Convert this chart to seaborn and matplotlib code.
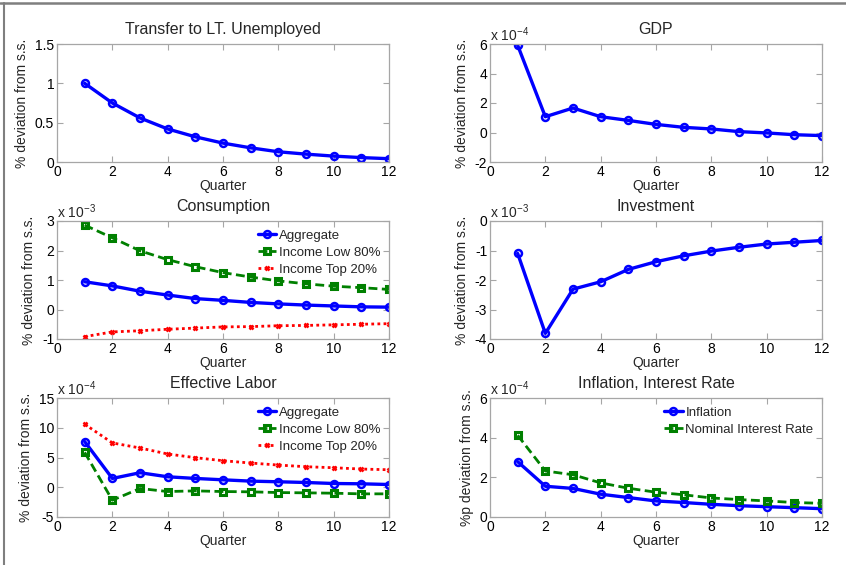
import numpy as np
import pandas as pd
import matplotlib
matplotlib.use("Agg")
import matplotlib.pyplot as plt
from matplotlib.lines import Line2D
import seaborn as sns

# ---- impulse responses, quarters 1..12 ----
quarters = list(range(1, 13))

transfer = [1.00, 0.75, 0.56, 0.42, 0.32, 0.24, 0.18, 0.13, 0.10, 0.075, 0.056, 0.042]

# GDP (x 10^-4)
gdp = [5.91, 1.07, 1.66, 1.07, 0.82, 0.55, 0.35, 0.24, 0.06, -0.03, -0.15, -0.21]

# Consumption (x 10^-3)
cons_agg = [0.94, 0.80, 0.62, 0.49, 0.37, 0.31, 0.24, 0.19, 0.15, 0.12, 0.09, 0.08]
cons_low = [2.86, 2.43, 1.99, 1.69, 1.45, 1.25, 1.10, 0.97, 0.87, 0.79, 0.74, 0.68]
cons_top = [-0.92, -0.76, -0.72, -0.67, -0.63, -0.59, -0.58, -0.55, -0.54, -0.52, -0.50, -0.48]

# Investment (x 10^-3)
invest = [-1.10, -3.81, -2.31, -2.06, -1.64, -1.38, -1.18, -1.02, -0.89, -0.78, -0.72, -0.66]

# Effective labor (x 10^-4)
lab_agg = [7.68, 1.48, 2.44, 1.76, 1.48, 1.25, 1.03, 0.92, 0.80, 0.63, 0.58, 0.46]
lab_low = [5.87, -2.18, -0.21, -0.72, -0.61, -0.72, -0.77, -0.89, -0.94, -1.00, -1.11, -1.11]
lab_top = [10.6, 7.45, 6.60, 5.59, 4.97, 4.46, 4.07, 3.73, 3.45, 3.28, 3.06, 2.94]

# Inflation and nominal rate (x 10^-4)
inflation = [2.79, 1.55, 1.44, 1.15, 0.98, 0.81, 0.73, 0.64, 0.57, 0.52, 0.47, 0.42]
nominal = [4.12, 2.32, 2.13, 1.72, 1.45, 1.25, 1.12, 0.96, 0.88, 0.81, 0.73, 0.69]

group_labels = ["Aggregate", "Income Low 80%", "Income Top 20%"]
rate_labels = ["Inflation", "Nominal Interest Rate"]
titles = ["Transfer to LT. Unemployed", "GDP", "Consumption",
          "Investment", "Effective Labor", "Inflation, Interest Rate"]

sns.set_theme(style="white")
plt.rcParams["font.family"] = ["Liberation Sans", "DejaVu Sans"]
plt.rcParams["mathtext.default"] = "regular"
plt.rcParams["axes.unicode_minus"] = False

BLUE = (0.0, 0.0, 1.0)
GREEN = (0.0, 0.5, 0.0)
RED = (1.0, 0.0, 0.0)
AXC = "#a6a6a6"

STYLES = {
    "blue": dict(color=BLUE, linestyle="-", linewidth=2.4, marker="o", markersize=5,
                 markerfacecolor="none", markeredgecolor=BLUE, markeredgewidth=1.8),
    "green": dict(color=GREEN, linestyle=(0, (3.2, 1.6)), linewidth=2.0, marker="s", markersize=4.5,
                  markerfacecolor="none", markeredgecolor=GREEN, markeredgewidth=2.2),
    "red": dict(color=RED, linestyle=(0, (1, 1.2)), linewidth=2.0, marker="x", markersize=3,
                markerfacecolor=RED, markeredgecolor=RED, markeredgewidth=1.8),
}

FS_TICK = 10
FS_LABEL = 10
FS_TITLE = 11.5
FS_LEG = 9.5

fig = plt.figure(figsize=(8.46, 5.65), dpi=100)

W, H = 846, 565
cols = [57, 490]
col_w = 332
rows = [(44, 162), (221, 339), (398, 517)]


def make_ax(r, c):
    top, bot = rows[r]
    return fig.add_axes([cols[c] / W, 1 - bot / H, col_w / W, (bot - top) / H])


def draw(ax, y, style, label=None):
    sns.lineplot(x=quarters, y=y, ax=ax, label=label, legend=False, **STYLES[style])


def finish(ax, title, ylim, yticks, yticklabels=None, exp=None, ylabel="% deviation from s.s."):
    ax.set_xlim(0, 12)
    ax.set_xticks(range(0, 13, 2))
    ax.set_ylim(*ylim)
    ax.set_yticks(yticks)
    if yticklabels is not None:
        ax.set_yticklabels(yticklabels)
    ax.tick_params(axis="both", direction="in", length=4, width=0.8, color=AXC,
                   labelsize=FS_TICK, labelcolor="black", pad=2,
                   top=True, right=True, bottom=True, left=True)
    for s in ax.spines.values():
        s.set_color(AXC)
        s.set_linewidth(0.9)
    ax.set_title(title, fontsize=FS_TITLE, pad=7)
    ax.set_xlabel("Quarter", fontsize=FS_LABEL, labelpad=0)
    ax.set_ylabel(ylabel, fontsize=FS_LABEL, labelpad=4)
    if exp is not None:
        ax.text(0.0, 1.0, r"x 10$^{%d}$" % exp, transform=ax.transAxes,
                ha="left", va="bottom", fontsize=FS_TICK)


def legend(ax):
    ax.legend(loc="upper right", frameon=False, fontsize=FS_LEG, handlelength=1.4,
              handletextpad=0.2, labelspacing=0.35, borderaxespad=0.35, borderpad=0.3)


# Transfer
ax = make_ax(0, 0)
draw(ax, transfer, "blue")
finish(ax, titles[0], (0, 1.5), [0, 0.5, 1, 1.5], ["0", "0.5", "1", "1.5"])

# GDP
ax = make_ax(0, 1)
draw(ax, gdp, "blue")
finish(ax, titles[1], (-2, 6), [-2, 0, 2, 4, 6], exp=-4)

# Consumption
ax = make_ax(1, 0)
draw(ax, cons_agg, "blue", group_labels[0])
draw(ax, cons_low, "green", group_labels[1])
draw(ax, cons_top, "red", group_labels[2])
finish(ax, titles[2], (-1, 3), [-1, 0, 1, 2, 3], exp=-3)
legend(ax)

# Investment
ax = make_ax(1, 1)
draw(ax, invest, "blue")
finish(ax, titles[3], (-4, 0), [-4, -3, -2, -1, 0], exp=-3)

# Effective labor
ax = make_ax(2, 0)
draw(ax, lab_agg, "blue", group_labels[0])
draw(ax, lab_low, "green", group_labels[1])
draw(ax, lab_top, "red", group_labels[2])
finish(ax, titles[4], (-5, 15), [-5, 0, 5, 10, 15], exp=-4)
legend(ax)

# Inflation, interest rate
ax = make_ax(2, 1)
draw(ax, inflation, "blue", rate_labels[0])
draw(ax, nominal, "green", rate_labels[1])
finish(ax, titles[5], (0, 6), [0, 2, 4, 6], exp=-4, ylabel="%p deviation from s.s.")
legend(ax)

# outer frame lines (top and left)
fig.add_artist(Line2D([0, 1], [1 - 2.5 / H, 1 - 2.5 / H], transform=fig.transFigure,
                      color="#7f7f7f", linewidth=1.8))
fig.add_artist(Line2D([3.5 / W, 3.5 / W], [0, 1 - 2.5 / H], transform=fig.transFigure,
                      color="#7f7f7f", linewidth=1.5))

fig.savefig("out.png", dpi=100)
